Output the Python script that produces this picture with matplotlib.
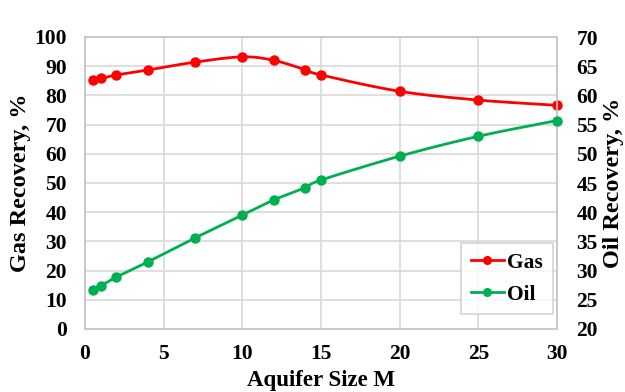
import numpy as np
import matplotlib
matplotlib.use("Agg")
import matplotlib.pyplot as plt
from matplotlib.lines import Line2D

plt.rcParams['font.family'] = ['Liberation Serif', 'DejaVu Serif']
plt.rcParams['font.weight'] = 'bold'

aquifer_size = [0.5, 1, 2, 4, 7, 10, 12, 14, 15, 20, 25, 30]
gas_recovery = [85.3, 85.8, 87.0, 88.7, 91.4, 93.2, 92.0, 88.8, 87.0, 81.4, 78.4, 76.6]
oil_recovery = [26.7, 27.4, 28.9, 31.5, 35.6, 39.5, 42.1, 44.2, 45.5, 49.6, 53.0, 55.7]

x_ticks = [0, 5, 10, 15, 20, 25, 30]
gas_ticks = list(range(0, 101, 10))
oil_ticks = list(range(20, 71, 5))

GAS_COLOR = '#ff0000'
OIL_COLOR = '#00b050'
GRID_COLOR = '#d9d9d9'
TICK_SIZE = 15.5


def smooth_curve(xs, ys, steps=20):
    """Catmull-Rom style smoothed path through the points."""
    xs = np.asarray(xs, float)
    ys = np.asarray(ys, float)
    px = np.concatenate([[2 * xs[0] - xs[1]], xs, [2 * xs[-1] - xs[-2]]])
    py = np.concatenate([[2 * ys[0] - ys[1]], ys, [2 * ys[-1] - ys[-2]]])
    out_x, out_y = [], []
    t = np.linspace(0, 1, steps, endpoint=False)
    for i in range(1, len(px) - 2):
        p0, p1, p2, p3 = (np.array([px[j], py[j]]) for j in range(i - 1, i + 3))
        c1 = p1 + (p2 - p0) / 6.0
        c2 = p2 - (p3 - p1) / 6.0
        for tt in t:
            b = ((1 - tt) ** 3) * p1 + 3 * ((1 - tt) ** 2) * tt * c1 \
                + 3 * (1 - tt) * tt ** 2 * c2 + tt ** 3 * p2
            out_x.append(b[0])
            out_y.append(b[1])
    out_x.append(xs[-1])
    out_y.append(ys[-1])
    return out_x, out_y


W, H = 625, 392
fig = plt.figure(figsize=(W / 100, H / 100), dpi=100)
ax = fig.add_axes([85 / W, 1 - 329 / H, (557 - 85) / W, (329 - 37) / H])
ax2 = ax.twinx()

ax.set_xlim(0, 30)
ax.set_ylim(0, 100)
ax2.set_ylim(20, 70)

ax.set_xticks(x_ticks)
ax.set_yticks(gas_ticks)
ax2.set_yticks(oil_ticks)

ax.grid(True, color=GRID_COLOR, linewidth=1.2)
ax.set_axisbelow(True)

for a in (ax, ax2):
    for s in a.spines.values():
        s.set_color('#c8c8c8')
        s.set_linewidth(1.2)

ax.tick_params(axis='x', length=0, labelsize=TICK_SIZE, pad=11)
ax.tick_params(axis='y', length=0, labelsize=TICK_SIZE, pad=13)
ax2.tick_params(axis='y', length=0, labelsize=TICK_SIZE, pad=14)

gx, gy = smooth_curve(aquifer_size, gas_recovery)
ax.plot(gx, gy, color=GAS_COLOR, linewidth=2, zorder=3)
ax.plot(aquifer_size, gas_recovery, 'o', color=GAS_COLOR, markersize=6.5, zorder=4,
        clip_on=False)

ox, oy = smooth_curve(aquifer_size, oil_recovery)
ax2.plot(ox, oy, color=OIL_COLOR, linewidth=2, zorder=3)
ax2.plot(aquifer_size, oil_recovery, 'o', color=OIL_COLOR, markersize=6.5, zorder=4,
         clip_on=False)

ax.set_xlabel('Aquifer Size M', fontsize=16.5, fontweight='bold')
ax.set_ylabel('Gas Recovery, %', fontsize=17.5, fontweight='bold')
ax2.set_ylabel('Oil Recovery, %', fontsize=17.5, fontweight='bold', rotation=90)
ax.xaxis.set_label_coords(0.5, -(386 - 329) / (329 - 37), transform=ax.transAxes)
ax.xaxis.label.set_va('baseline')
ax.yaxis.set_label_coords((21 - 85) / (557 - 85), 0.5, transform=ax.transAxes)
ax.yaxis.label.set_va('center')
ax2.yaxis.set_label_coords((613 - 85) / (557 - 85), 0.5, transform=ax.transAxes)
ax2.yaxis.label.set_va('center')

handles = [
    Line2D([], [], color=GAS_COLOR, marker='o', markersize=5.5, linewidth=2),
    Line2D([], [], color=OIL_COLOR, marker='o', markersize=5.5, linewidth=2),
]
leg = fig.legend(handles, ['Gas', 'Oil'], loc='upper left',
                 bbox_to_anchor=(461 / W, 1 - 243 / H), fontsize=TICK_SIZE,
                 frameon=True, fancybox=False, edgecolor='#c8c8c8',
                 handlelength=1.55, handletextpad=0.15, borderpad=0.45,
                 labelspacing=0.55, borderaxespad=0)
leg.get_frame().set_linewidth(1.2)
leg.set_zorder(10)

fig.savefig('out.png', dpi=100)
